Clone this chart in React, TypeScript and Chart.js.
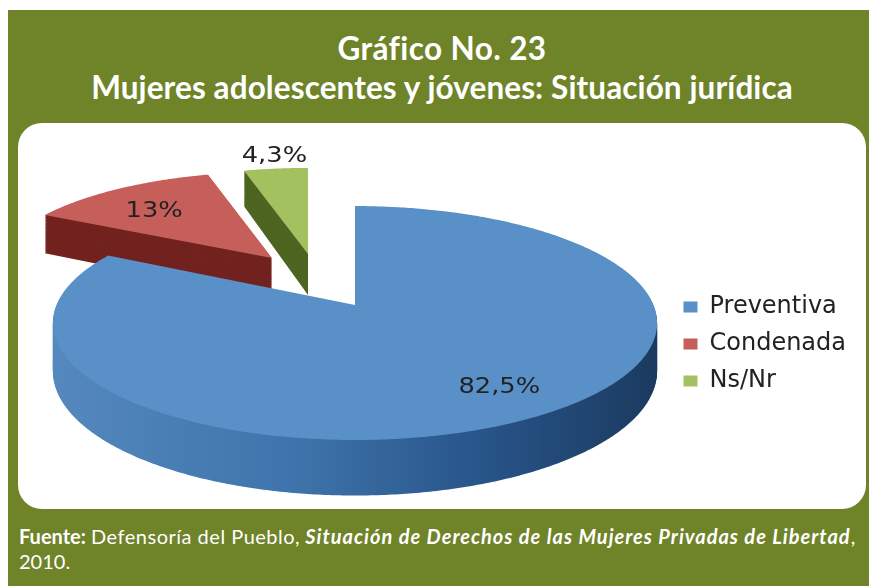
import React, { useEffect, useRef } from "react";
import { Chart, registerables } from "chart.js";

Chart.register(...registerables);

const categories = ["Preventiva", "Condenada", "Ns/Nr"];
const shares = [82.5, 13, 4.3];
const topColors = ["#5990C8", "#C65E59", "#A3C25F"];
const sideColors = ["#234C7A", "#72231F", "#4E6421"];

// Exploded apex of each slice on the canvas, its scale, and label placement along the mid-angle.
const apexX = [337, 254, 290];
const apexY = [182, 135, 131];
const sliceScaleX = [1, 0.92, 0.92];
const sliceScaleY = [1, 0.87, 0.87];
const labelDistance = [0.8, 0.75, 1.2];
const labelNudgeX = [6, 1, 4];
const labelNudgeY = [-5, 6, 2];

const PERSPECTIVE = 0.154;
const HALF_WIDTH = 298.5;
const HALF_DEPTH = 114.2;
const THICKNESS = 47;

function projector(el: any, i: number, h: number) {
  return (x: number, y: number): [number, number] => {
    const R = el.outerRadius;
    const u = (x - el.x) / R;
    const v = (y - el.y) / R;
    const d = 1 - PERSPECTIVE * v;
    return [
      apexX[i] + (sliceScaleX[i] * HALF_WIDTH * u) / d,
      apexY[i] + (sliceScaleY[i] * (HALF_DEPTH * v + h)) / d,
    ];
  };
}

function projectedContext(ctx: CanvasRenderingContext2D, project: (x: number, y: number) => [number, number]) {
  const overrides: Record<string, any> = {
    moveTo: (x: number, y: number) => ctx.moveTo(...project(x, y)),
    lineTo: (x: number, y: number) => ctx.lineTo(...project(x, y)),
    arc: (x: number, y: number, r: number, a0: number, a1: number) => {
      const n = Math.max(2, Math.ceil(Math.abs(a1 - a0) / 0.01));
      for (let k = 0; k <= n; k++) {
        const a = a0 + ((a1 - a0) * k) / n;
        ctx.lineTo(...project(x + r * Math.cos(a), y + r * Math.sin(a)));
      }
    },
  };
  return new Proxy(ctx as any, {
    get(t, p: string) {
      if (p in overrides) return overrides[p];
      const val = t[p];
      return typeof val === "function" ? val.bind(t) : val;
    },
    set(t, p: string, val) {
      t[p] = val;
      return true;
    },
  });
}

function sideFill(ctx: CanvasRenderingContext2D, i: number) {
  if (i !== 0) return sideColors[i];
  const g = ctx.createLinearGradient(35, 0, 642, 0);
  g.addColorStop(0, "#5488BF");
  g.addColorStop(0.4, "#3E74AB");
  g.addColorStop(0.7, "#28558A");
  g.addColorStop(1, "#1B3A5E");
  return g;
}

const pie3d = {
  id: "pie3d",
  beforeDatasetsDraw(chart: any) {
    const ctx: CanvasRenderingContext2D = chart.ctx;
    const arcs = chart.getDatasetMeta(0).data;
    const order = [1, 2, 0];
    for (const i of order) {
      const el = arcs[i];
      const base = el.options;
      el.options = Object.assign({}, base, { backgroundColor: sideFill(ctx, i) });
      for (let h = THICKNESS; h > 0; h--) {
        el.draw(projectedContext(ctx, projector(el, i, h)));
      }
      el.options = Object.assign({}, base, { backgroundColor: topColors[i] });
      el.draw(projectedContext(ctx, projector(el, i, 0)));
      el.options = base;
    }
    ctx.save();
    ctx.fillStyle = "#222";
    ctx.font = "22px 'DejaVu Sans'";
    ctx.textAlign = "center";
    ctx.textBaseline = "middle";
    arcs.forEach((el: any, i: number) => {
      const mid = (el.startAngle + el.endAngle) / 2;
      const r = el.outerRadius * labelDistance[i];
      const [x, y] = projector(el, i, 0)(el.x + r * Math.cos(mid), el.y + r * Math.sin(mid));
      ctx.save();
      ctx.translate(x + labelNudgeX[i], y + labelNudgeY[i]);
      ctx.scale(1.17, 1);
      ctx.fillText(String(shares[i]).replace(".", ",") + "%", 0, 0);
      ctx.restore();
    });
    ctx.restore();
    return false;
  },
};

export default function App() {
  const ref = useRef<HTMLCanvasElement>(null);
  useEffect(() => {
    const chart = new Chart(ref.current!, {
      type: "pie",
      data: {
        labels: categories,
        datasets: [{ data: shares, backgroundColor: topColors, borderWidth: 0 }],
      },
      plugins: [pie3d],
      options: {
        responsive: false,
        animation: false,
        events: [],
        layout: { padding: { top: 56, right: 10 } },
        plugins: {
          tooltip: { enabled: false },
          legend: {
            position: "right",
            labels: {
              boxWidth: 14,
              boxHeight: 11,
              padding: 13,
              color: "#222",
              font: { family: "'DejaVu Sans'", size: 24 },
            },
          },
        },
      },
    } as any);
    return () => chart.destroy();
  }, []);

  return (
    <div style={{ position: "absolute", left: 8, top: 10, width: 861, height: 576, background: "#6F8328", color: "#fff", fontFamily: "Lato" }}>
      <div style={{ position: "absolute", left: 0, width: 868, top: 19, textAlign: "center", fontWeight: 700, fontSize: 31.5, lineHeight: "39px", whiteSpace: "nowrap", letterSpacing: 0.1 }}>
        <span style={{ letterSpacing: 0.4 }}>Gráfico No. 23</span>
        <br />
        Mujeres adolescentes y jóvenes: Situación jurídica
      </div>
      <div style={{ position: "absolute", left: 10, top: 113, width: 848, height: 386, background: "#fff", borderRadius: 24 }}>
        <canvas ref={ref} width={848} height={386} style={{ display: "block" }} />
      </div>
      <div style={{ position: "absolute", left: 11, top: 514, fontSize: 20, lineHeight: "25px", whiteSpace: "nowrap" }}>
        <b>Fuente:</b> <span style={{ letterSpacing: 0.5 }}>Defensoría del Pueblo,</span>{" "}
        <b style={{ letterSpacing: 1 }}><i>Situación de Derechos de las Mujeres Privadas de Libertad</i></b>,
        <br />
        2010.
      </div>
    </div>
  );
}
